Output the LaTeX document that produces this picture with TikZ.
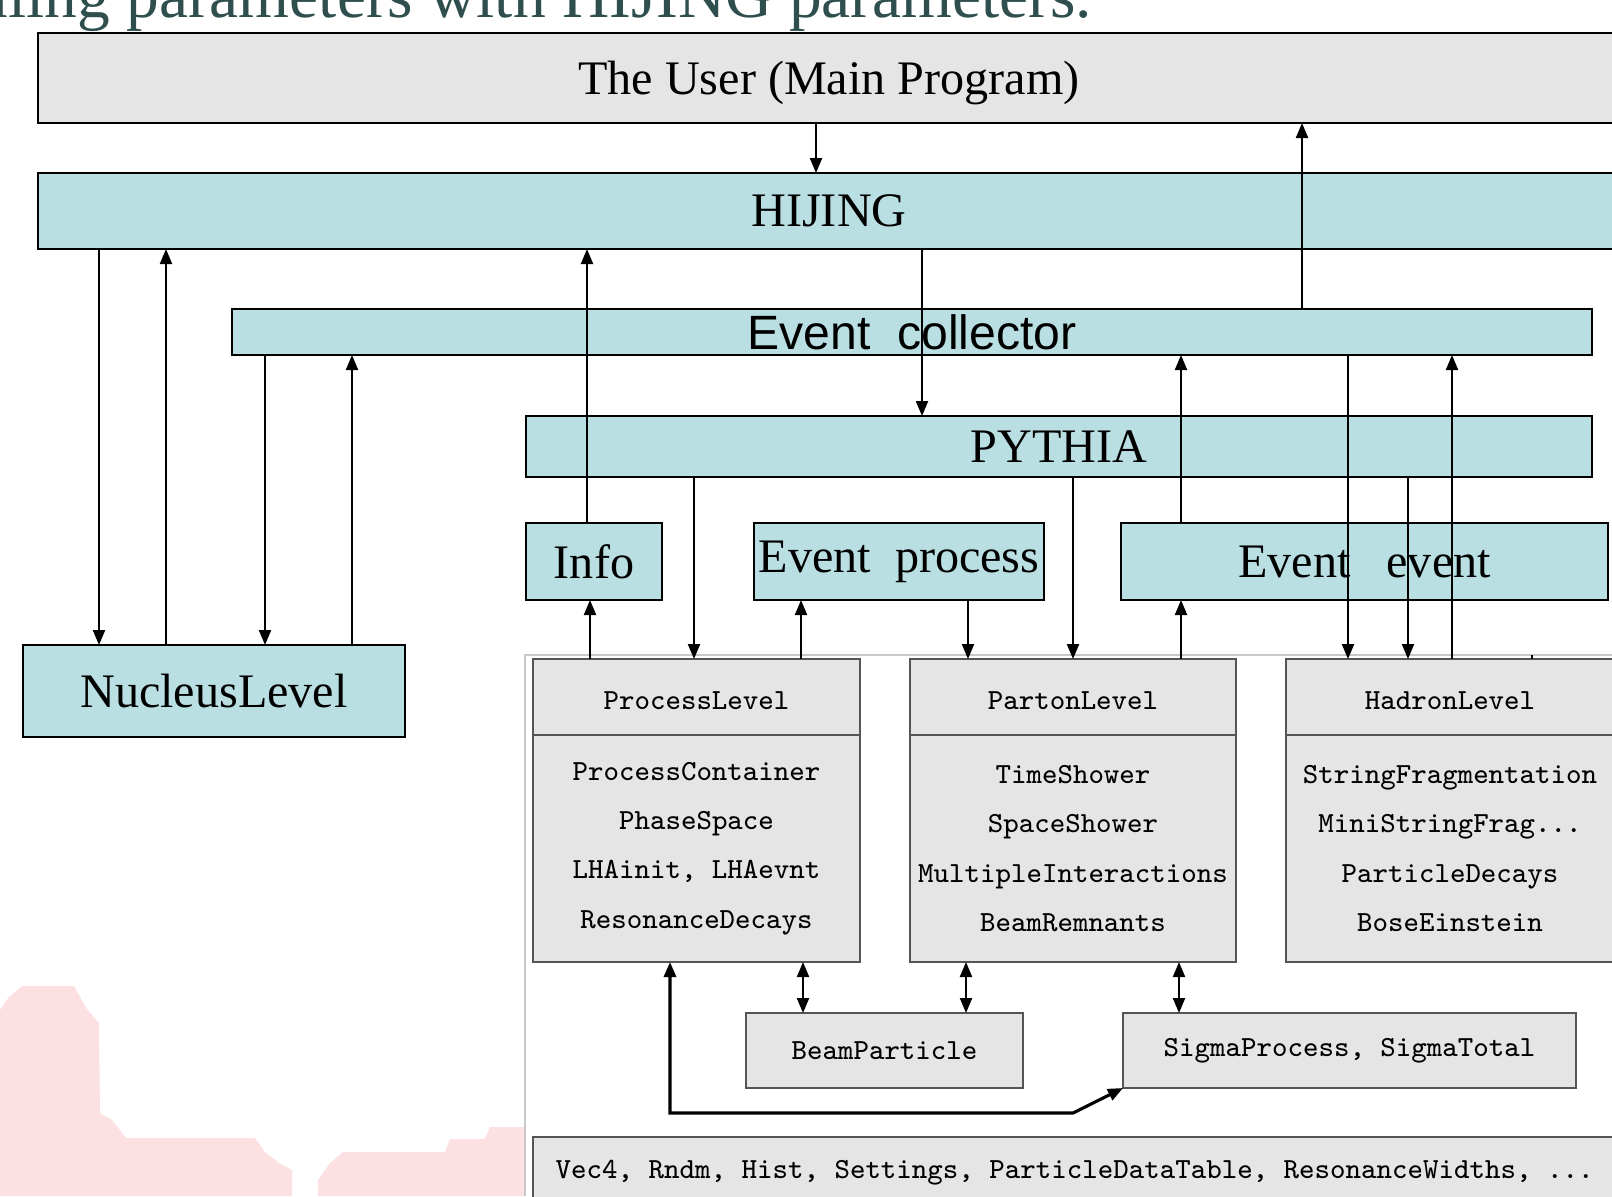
\documentclass[tikz,border=0pt]{standalone}
\usepackage{fontspec}
\usepackage{xcolor}
\usepackage{tikz}
\usetikzlibrary{arrows.meta}
\newfontfamily\hjserif{Liberation Serif}
\newfontfamily\hjsans{Liberation Sans}
\newcommand{\hjbig}{\hjserif\fontsize{13.7}{16}\selectfont}
\newcommand{\hjsansbig}{\hjsans\fontsize{13.7}{16}\selectfont}
\newcommand{\hjtt}{\ttfamily\fontsize{8.3}{14}\selectfont}
\newcommand{\hjtitle}{\hjserif\fontsize{18.6}{22}\selectfont}
\definecolor{hjteal}{RGB}{185,223,226}
\definecolor{boxgray}{RGB}{229,229,229}
\definecolor{boxedge}{RGB}{85,85,85}
\definecolor{framegray}{RGB}{200,200,200}
\definecolor{titleteal}{RGB}{47,79,79}
\definecolor{pinkbg}{RGB}{253,224,226}
\tikzset{
  userbox/.style={draw=black, line width=0.8pt, fill=boxgray, inner sep=0pt, outer sep=0pt, font=\hjbig},
  tealbox/.style={draw=black, line width=0.8pt, fill=hjteal, inner sep=0pt, outer sep=0pt, font=\hjbig},
  graybox/.style={draw=boxedge, line width=0.6pt, fill=boxgray, inner sep=0pt, outer sep=0pt, font=\hjtt, align=center},
  levelhead/.style={graybox, text height=2.6mm},
  arr/.style={-{Triangle[length=1.5mm,width=1.2mm]}, line width=0.6pt},
  dblarr/.style={{Triangle[length=1.5mm,width=1.2mm]}-{Triangle[length=1.5mm,width=1.2mm]}, line width=0.6pt},
}
\begin{document}
\begin{tikzpicture}[x=0.1mm, y=-0.1mm]
  \useasboundingbox (0,0) rectangle (1612,1196);
  \clip (0,0) rectangle (1612,1196);
  \fill[white] (0,0) rectangle (1612,1196);
  \fill[pinkbg] (0,1010) -- (9,997) -- (22,986) -- (74,986) -- (86,1008) -- (99,1023) -- (100,1113) -- (112,1120) -- (126,1138) -- (255,1138) -- (265,1152) -- (279,1163) -- (292,1170) -- (292,1196) -- (0,1196) -- cycle;
  \fill[pinkbg] (318,1196) -- (318,1180) -- (330,1163) -- (343,1152) -- (445,1152) -- (450,1139) -- (485,1139) -- (490,1127) -- (525,1127) -- (525,1196) -- cycle;
  \coordinate (framecorner) at (525,655);
  \draw[framegray, line width=0.4pt] (525,1196) -- (framecorner) -- (1612,655);
  \node[anchor=base west, inner sep=0pt, font=\hjtitle, text=titleteal] (slidetitle) at (-25,17) {uling parameters with HIJING parameters.};
  \node[userbox, minimum width=158.2mm, minimum height=9.0mm, text depth=0pt] (user) at (829,78) {The User (Main Program)};
  \node[tealbox, minimum width=158.2mm, minimum height=7.6mm] (hijing) at (829,211) {HIJING};
  \node[tealbox, minimum width=136.0mm, minimum height=4.6mm, font=\hjsansbig] (collector) at (912,332) {Event\ \ collector};
  \node[tealbox, minimum width=106.6mm, minimum height=6.1mm] (pythia) at (1059,446.5) {PYTHIA};
  \node[tealbox, minimum width=13.6mm, minimum height=7.7mm] (info) at (594,561.5) {Info};
  \node[tealbox, minimum width=29.0mm, minimum height=7.7mm] (evproc) at (899,561.5) {Event\ \ process};
  \node[tealbox, minimum width=48.7mm, minimum height=7.7mm] (evevent) at (1364.5,561.5) {Event\ \ \ event};
  \node[tealbox, minimum width=38.2mm, minimum height=9.2mm] (nucleus) at (214,691) {NucleusLevel};
  \node[levelhead, minimum width=32.7mm, minimum height=7.6mm] (plhead) at (696.5,697) {ProcessLevel};
  \node[graybox, minimum width=32.7mm, minimum height=22.7mm] (plbody) at (696.5,848.5) {ProcessContainer\\PhaseSpace\\LHAinit, LHAevnt\\ResonanceDecays};
  \node[levelhead, minimum width=32.6mm, minimum height=7.6mm] (pnhead) at (1073,697) {PartonLevel};
  \node[graybox, minimum width=32.6mm, minimum height=22.7mm] (pnbody) at (1073,848.5) {TimeShower\\SpaceShower\\MultipleInteractions\\BeamRemnants};
  \node[levelhead, minimum width=32.8mm, minimum height=7.6mm] (hlhead) at (1450,697) {HadronLevel};
  \node[graybox, minimum width=32.8mm, minimum height=22.7mm] (hlbody) at (1450,848.5) {StringFragmentation\\MiniStringFrag...\\ParticleDecays\\BoseEinstein};
  \node[graybox, minimum width=27.7mm, minimum height=7.5mm] (beam) at (884.5,1050.5) {BeamParticle};
  \node[graybox, minimum width=45.3mm, minimum height=7.5mm] (sigma) at (1349.5,1050.5) {SigmaProcess, SigmaTotal};
  \node[graybox, anchor=north west, minimum width=110.7mm, minimum height=12.2mm] (utils) at (533,1137) {};
  \node[anchor=west, inner sep=0pt, font=\hjtt] (utilstext) at (555,1173) {Vec4, Rndm, Hist, Settings, ParticleDataTable, ResonanceWidths, ...};
  \coordinate (retl) at (670,1113);
  \coordinate (retr) at (1073,1113);
  \coordinate (tick) at (1532,655);
  \draw[arr] (user.south -| 816,0) -- (hijing.north -| 816,0);
  \draw[arr] (collector.north -| 1302,0) -- (user.south -| 1302,0);
  \draw[arr] (hijing.south -| 99,0) -- (nucleus.north -| 99,0);
  \draw[arr] (nucleus.north -| 166,0) -- (hijing.south -| 166,0);
  \draw[arr] (collector.south -| 265,0) -- (nucleus.north -| 265,0);
  \draw[arr] (nucleus.north -| 352,0) -- (collector.south -| 352,0);
  \draw[arr] (info.north -| 587,0) -- (hijing.south -| 587,0);
  \draw[arr] (hijing.south -| 922,0) -- (pythia.north -| 922,0);
  \draw[arr] (pythia.south -| 694,0) -- (plhead.north -| 694,0);
  \draw[arr] (plhead.north -| 590,0) -- (info.south -| 590,0);
  \draw[arr] (plhead.north -| 801,0) -- (evproc.south -| 801,0);
  \draw[arr] (evproc.south -| 968,0) -- (pnhead.north -| 968,0);
  \draw[arr] (pythia.south -| 1073,0) -- (pnhead.north -| 1073,0);
  \draw[arr] (pnhead.north -| 1181,0) -- (evevent.south -| 1181,0);
  \draw[arr] (evevent.north -| 1181,0) -- (collector.south -| 1181,0);
  \draw[arr] (collector.south -| 1348,0) -- (hlhead.north -| 1348,0);
  \draw[arr] (pythia.south -| 1408,0) -- (hlhead.north -| 1408,0);
  \draw[arr] (hlhead.north -| 1452,0) -- (collector.south -| 1452,0);
  \draw[line width=0.6pt] (tick) -- (hlhead.north -| tick);
  \draw[dblarr] (plbody.south -| 803,0) -- (beam.north -| 803,0);
  \draw[dblarr] (pnbody.south -| 966,0) -- (beam.north -| 966,0);
  \draw[dblarr] (pnbody.south -| 1179,0) -- (sigma.north -| 1179,0);
  \draw[dblarr, line width=0.9pt] (plbody.south -| retl) -- (retl) -- (retr) -- (sigma.south west);
\end{tikzpicture}
\end{document}
